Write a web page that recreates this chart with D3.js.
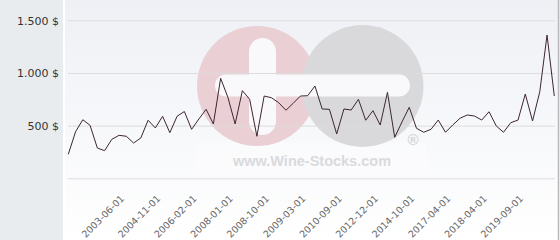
<!DOCTYPE html>
<html>

<head>
    <meta charset="UTF-8">
    <title>Wine price</title>
    <script src="https://cdnjs.cloudflare.com/ajax/libs/d3/7.8.5/d3.min.js"></script>
    <style>
        body { margin: 0; background: #fff; }
        svg { display: block; font-family: "DejaVu Sans", sans-serif; }
    </style>
</head>

<body>
    <svg id="chart"></svg>
    <script>
        // price per point (in $)
        var prices = [228, 442, 556, 503, 288, 262, 370, 408, 399, 335,
            383, 551, 478, 589, 433, 589, 634, 465, 563, 655,
            516, 949, 769, 516, 832, 750, 399, 781, 765, 718,
            646, 712, 781, 784, 876, 658, 655, 421, 658, 648,
            750, 551, 642, 506, 816, 389, 535, 674, 475, 437,
            465, 553, 437, 506, 570, 601, 591, 553, 632, 497,
            437, 528, 553, 800, 544, 822, 1360, 781]

        // labelled categories on the x axis
        var tickIndex = [8, 13, 18, 23, 28, 33, 38, 43, 48, 53, 58, 63]
        var tickLabels = ["2003-06-01", "2004-11-01", "2006-02-01", "2008-01-01",
            "2008-10-01", "2009-03-01", "2010-09-01", "2012-12-01",
            "2014-10-01", "2017-04-01", "2018-04-01", "2019-09-01"]

        var yTicks = [0, 500, 1000, 1500]

        var svgWidth = 560, svgHeight = 240
        var panel = 63

        var svg = d3.select("#chart")
            .attr("width", svgWidth)
            .attr("height", svgHeight)

        var defs = svg.append("defs")
        var grad = defs.append("linearGradient")
            .attr("id", "bg").attr("x1", 0).attr("y1", 0).attr("x2", 0).attr("y2", 1)
        grad.append("stop").attr("offset", "0%").attr("stop-color", "#eef0f5")
        grad.append("stop").attr("offset", "100%").attr("stop-color", "#ffffff")

        // grey panel for the y labels
        svg.append("rect")
            .attr("width", panel).attr("height", svgHeight)
            .attr("fill", "#e8ecef")
        svg.append("rect")
            .attr("x", panel + 2).attr("width", svgWidth - panel - 2).attr("height", svgHeight)
            .attr("fill", "url(#bg)")
        svg.append("line")
            .attr("x1", 558.5).attr("x2", 558.5).attr("y1", 0).attr("y2", svgHeight)
            .attr("stroke", "#b8b8b8").attr("stroke-width", 1.5)

        var x = d3.scalePoint()
            .domain(d3.range(prices.length))
            .range([68.3, 554.3])

        var y = d3.scaleLinear()
            .domain([0, 1500])
            .range([178.3, 20.3])

        // watermark
        var wm = svg.append("g").attr("class", "watermark")
        wm.append("rect")
            .attr("x", 197).attr("y", 143).attr("width", 230).attr("height", 29)
            .attr("fill", "#ffffff").attr("opacity", 0.3)
        wm.append("circle").attr("cx", 257).attr("cy", 86).attr("r", 60)
            .attr("fill", "#eacfd5")
        wm.append("circle").attr("cx", 362.5).attr("cy", 86).attr("r", 61)
            .attr("fill", "#d9d9dc")
        wm.append("rect")
            .attr("x", 249).attr("y", 38).attr("width", 27).attr("height", 97).attr("rx", 13.5)
            .attr("fill", "#f9f9fb")
        wm.append("rect")
            .attr("x", 215).attr("y", 74.5).attr("width", 195).attr("height", 22).attr("rx", 11)
            .attr("fill", "#f9f9fb")
        wm.append("text")
            .attr("x", 312).attr("y", 166)
            .attr("text-anchor", "middle")
            .attr("font-family", "Liberation Sans, Arial, sans-serif")
            .attr("font-weight", "bold")
            .attr("font-size", 14.5)
            .attr("fill", "#dadadc")
            .text("www.Wine-Stocks.com")
        wm.append("text")
            .attr("x", 413).attr("y", 145)
            .attr("text-anchor", "middle")
            .attr("font-family", "Liberation Sans, Arial, sans-serif")
            .attr("font-weight", "bold")
            .attr("font-size", 15)
            .attr("fill", "#d6d6d8")
            .text("®")

        // grid lines + y labels
        var yAxis = svg.append("g")
            .attr("transform", "translate(" + 68 + ",0)")
            .call(d3.axisLeft(y)
                .tickValues(yTicks)
                .tickSize(-487)
                .tickFormat(function (d) { return d ? d3.format(",")(d).replace(",", ".") + " $" : "" }))
        yAxis.select(".domain").remove()
        yAxis.selectAll(".tick line").attr("stroke", "#dcdcdc")
        yAxis.selectAll(".tick text")
            .attr("x", -9)
            .attr("dy", "0.36em")
            .attr("font-size", 11)
            .attr("font-family", "DejaVu Sans, sans-serif")
            .attr("fill", "#333")

        // x labels
        var xAxis = svg.append("g")
            .attr("transform", "translate(0,178.3)")
            .call(d3.axisBottom(x)
                .tickValues(tickIndex)
                .tickSize(0)
                .tickFormat(function (d) { return tickLabels[tickIndex.indexOf(d)] }))
        xAxis.select(".domain").remove()
        xAxis.selectAll(".tick text")
            .attr("y", 0).attr("dy", 0)
            .attr("text-anchor", "end")
            .attr("transform", "translate(-2,21) rotate(-45)")
            .attr("font-size", 9.5)
            .attr("font-family", "DejaVu Sans, sans-serif")
            .attr("fill", "#666")

        var line = d3.line()
            .x(function (d, i) { return x(i) })
            .y(function (d) { return y(d) })

        svg.append("path")
            .datum(prices)
            .attr("fill", "none")
            .attr("stroke", "#3d2632")
            .attr("stroke-width", 1)
            .attr("stroke-linejoin", "round")
            .attr("d", line)
    </script>
</body>

</html>
